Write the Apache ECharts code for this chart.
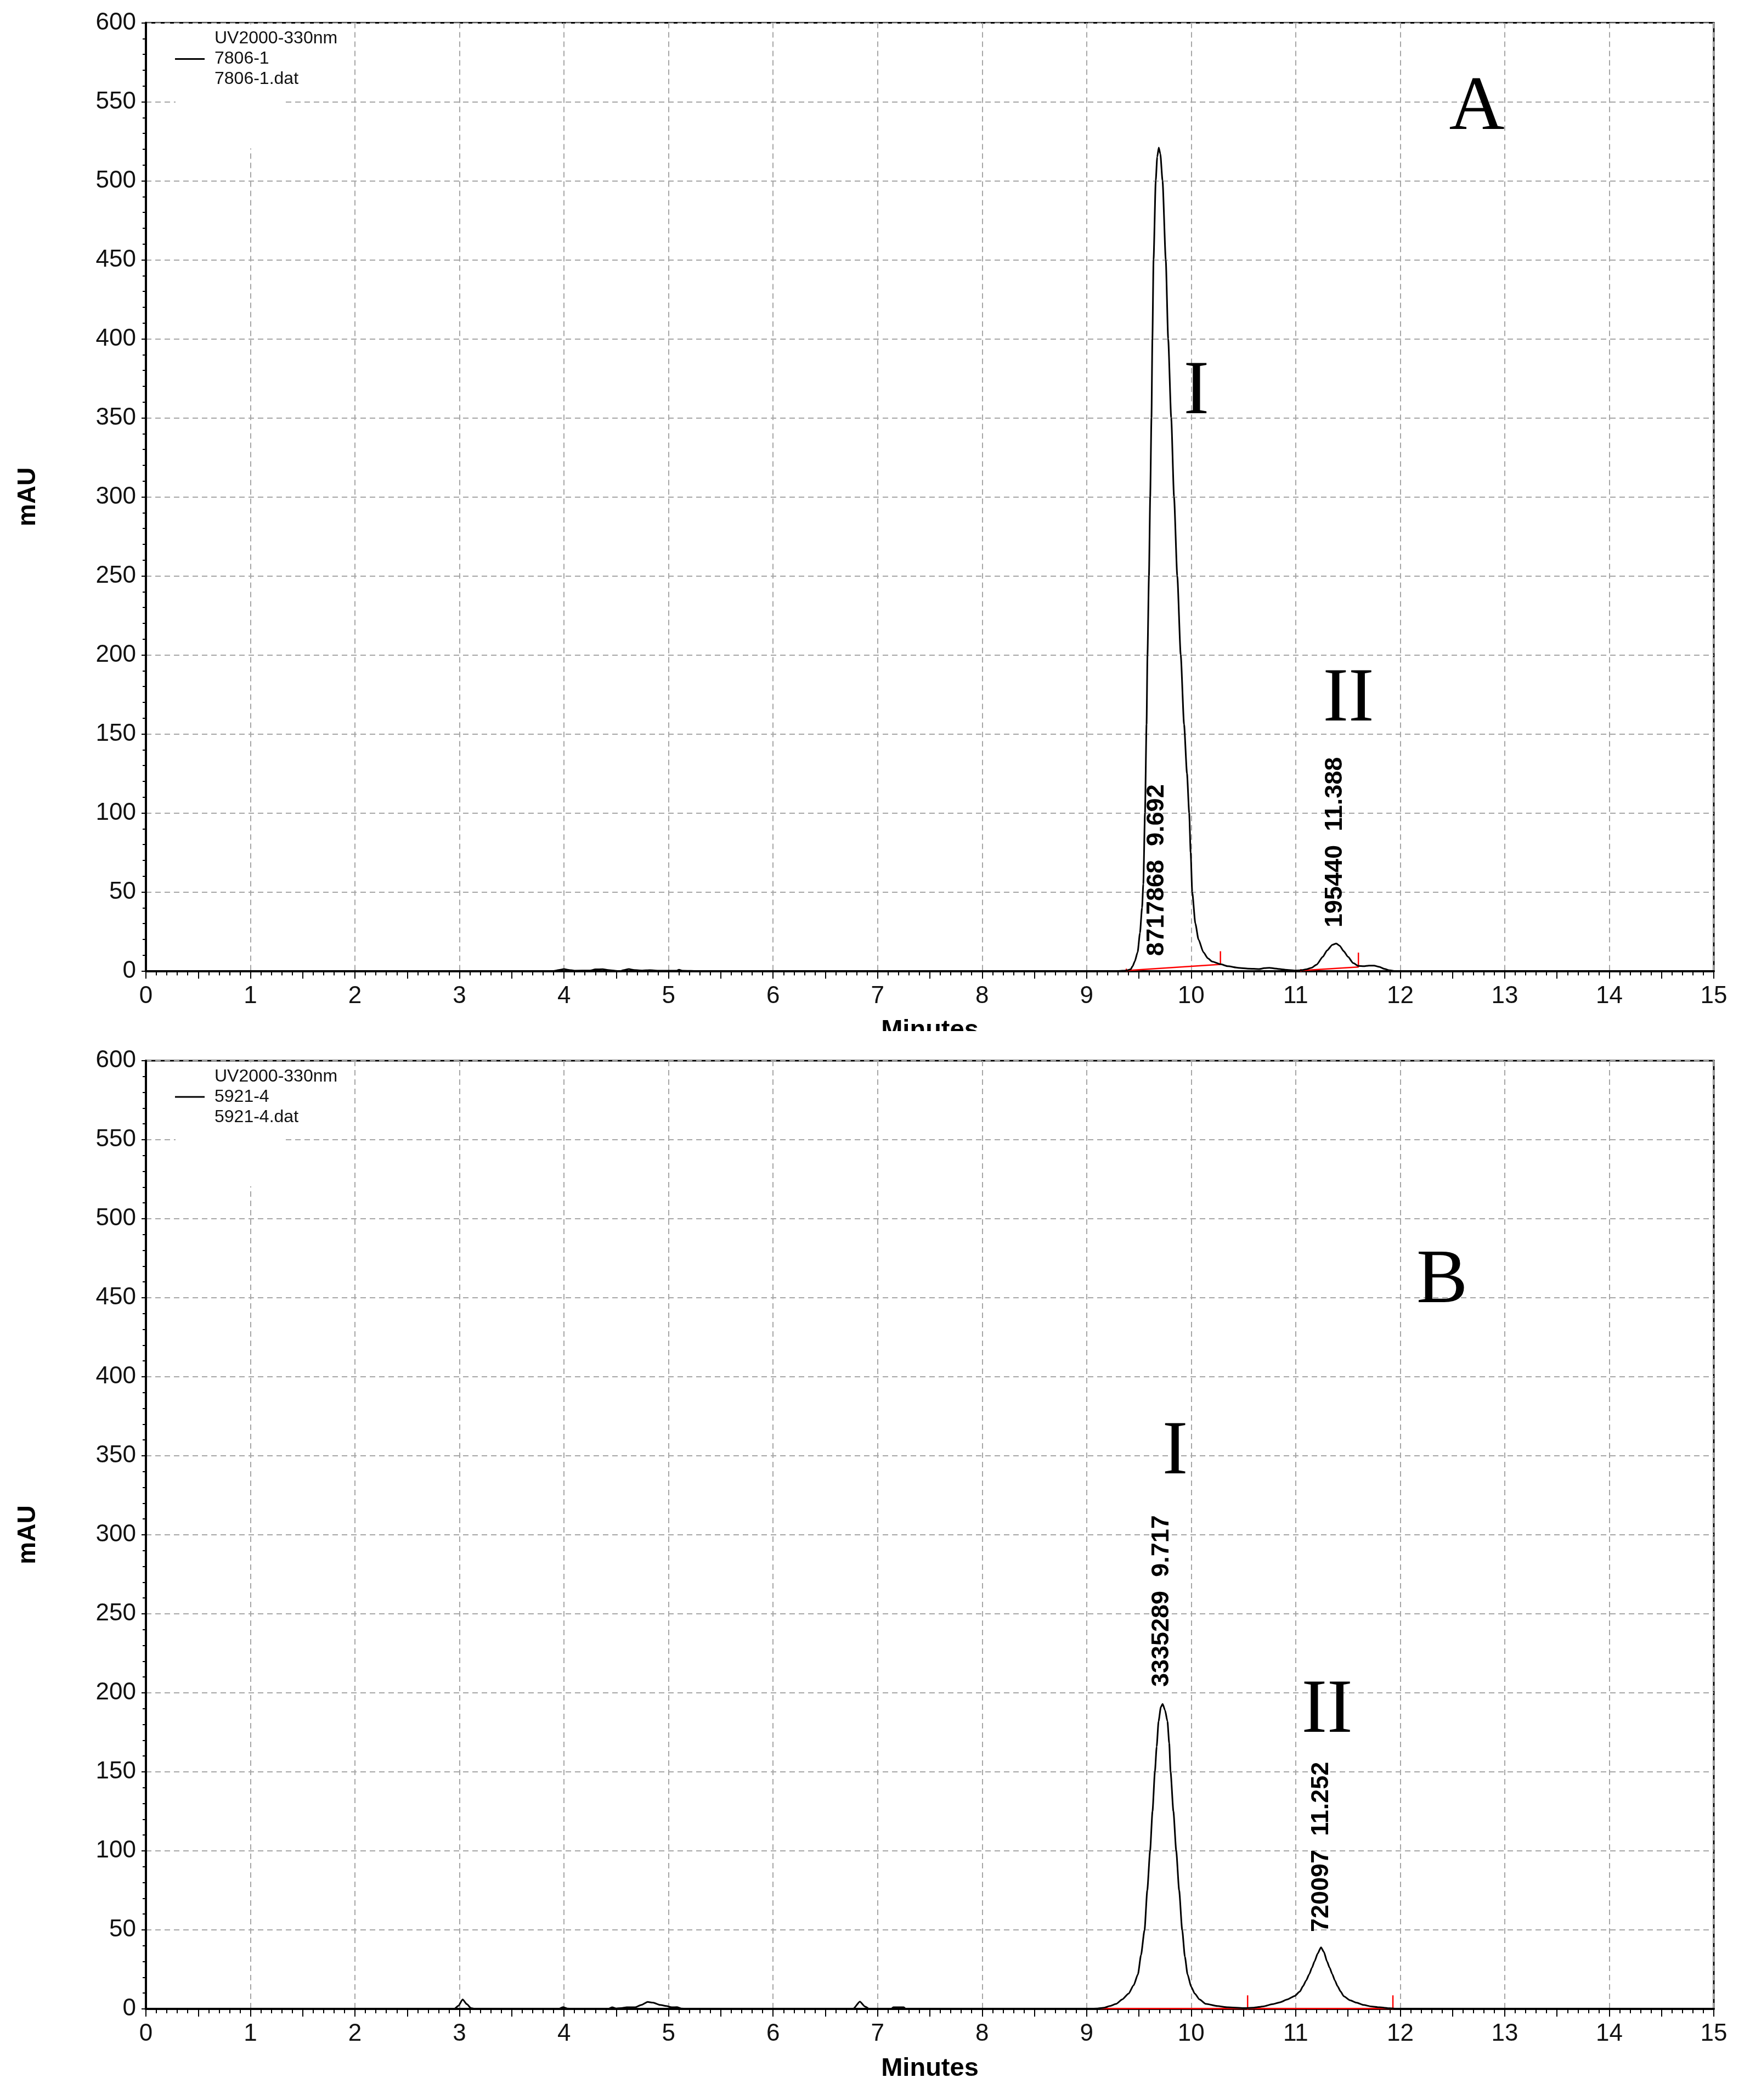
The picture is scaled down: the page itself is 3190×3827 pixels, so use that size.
<!DOCTYPE html>
<html><head><meta charset="utf-8">
<script src="https://cdn.jsdelivr.net/npm/echarts@6/dist/echarts.min.js"></script>
<style>html,body{margin:0;padding:0;background:#fff}#c{width:3190px;height:3827px}</style>
</head><body><div id="c"></div>
<script>
// ---------- data (time in minutes, absorbance in mAU) ----------
const legendA = 'UV2000-330nm\n7806-1\n7806-1.dat';
const legendB = 'UV2000-330nm\n5921-4\n5921-4.dat';

const traceA = [
 [0,0],[3.9,0],[3.95,0.6],[4.0,1.2],[4.05,0.6],[4.1,0.2],[4.25,0.3],[4.3,1.0],[4.37,1.1],[4.42,0.6],
 [4.5,0.1],[4.53,-0.3],[4.57,0.5],[4.62,1.2],[4.67,0.6],[4.75,0.3],[4.82,0.5],[4.9,0.2],[5.08,0.2],
 [5.1,0.8],[5.13,0.2],[5.3,0],[6.6,0],[6.65,-0.4],[6.85,-0.4],[6.9,0],[9.3,0],[9.38,0.3],[9.42,1],
 [9.44,3],[9.46,6],[9.488,12],[9.51,24],[9.53,40],[9.542,55],[9.558,100],[9.573,156],[9.582,200],
 [9.596,250],[9.608,300],[9.62,350],[9.629,400],[9.64,450],[9.661,500],[9.675,515],[9.69,521],
 [9.705,517],[9.726,500],[9.757,450],[9.78,400],[9.809,350],[9.836,300],[9.867,250],[9.9,200],
 [9.932,156],[9.96,125],[9.981,100],[9.995,75],[10.01,50],[10.04,30],[10.07,20],[10.116,12],
 [10.16,8],[10.2,6],[10.28,4.3],[10.35,3],[10.45,2],[10.55,1.5],[10.65,1.2],[10.7,1.8],[10.75,2],
 [10.8,1.6],[10.9,0.8],[11.0,0.3],[11.05,0.4],[11.1,1],[11.15,2],[11.2,4],[11.26,9],[11.3,13],
 [11.35,16.5],[11.388,17.4],[11.42,16],[11.46,12.5],[11.5,9],[11.55,5],[11.6,3.2],[11.65,3],
 [11.7,3.4],[11.75,3.4],[11.8,2.6],[11.85,1.3],[11.9,0.4],[11.95,0],[15,0]
];

const traceB = [
 [0,0],[2.95,0],[2.99,2],[3.03,6],[3.07,3],[3.11,0.5],[3.15,0],[3.95,0],[3.99,1.1],[4.03,0.3],
 [4.1,0],[4.42,0],[4.46,1],[4.5,0.3],[4.55,0.5],[4.6,1.0],[4.68,1.0],[4.74,2.5],[4.8,4.4],[4.85,4],
 [4.92,2.5],[4.98,1.8],[5.03,1],[5.08,1.1],[5.12,0.3],[5.2,0],[6.55,0],[6.6,-0.4],[6.72,-0.4],
 [6.77,0.3],[6.83,4.6],[6.88,1.5],[6.92,0],[7.13,0],[7.15,1],[7.25,1],[7.27,0],[9.0,0],[9.1,0.3],
 [9.17,0.8],[9.22,1.8],[9.283,3.2],[9.34,6],[9.40,9.6],[9.45,15],[9.491,22],[9.52,34],[9.554,50],
 [9.58,75],[9.607,100],[9.63,125],[9.653,150],[9.67,166],[9.688,182],[9.71,191],[9.727,193],
 [9.75,189],[9.773,182],[9.79,168],[9.803,150],[9.83,125],[9.857,100],[9.885,75],[9.914,50],
 [9.94,33],[9.965,22],[10.0,14],[10.035,9.6],[10.08,6],[10.14,3.2],[10.25,1.8],[10.35,1.0],
 [10.5,0.5],[10.6,0.8],[10.69,1.6],[10.78,3],[10.85,4.2],[10.92,6],[10.99,8.2],[11.04,11],
 [11.07,14.4],[11.1,18],[11.13,22],[11.155,26],[11.18,30],[11.21,35],[11.242,39],[11.27,36],
 [11.3,30],[11.325,26],[11.35,22],[11.375,18],[11.4,14.4],[11.43,11],[11.46,8],[11.52,5.5],
 [11.58,4],[11.65,2.5],[11.72,1.6],[11.8,1],[11.9,0.4],[12.0,0],[15,0]
];

// integration baselines and peak markers (red)
const baseA = [
 [[9.38,-1.5],[9.38,1.5]],
 [[9.38,0.3],[10.28,4.2],[10.28,12.5]],
 [[11.05,-1.5],[11.05,1.2]],
 [[11.05,0.3],[11.6,2.5],[11.6,11.6]]
];
const baseB = [
 [[9.13,0.3],[10.54,0.3]],
 [[10.54,-0.8],[10.54,8.6]],
 [[10.54,0.3],[11.93,0.3]],
 [[11.93,-0.8],[11.93,8.6]]
];

// peak annotations: area, retention time
const peakAreaA = ['8717868','195440'];
const peakRtA   = ['9.692','11.388'];
const peakAreaB = ['3335289','720097'];
const peakRtB   = ['9.717','11.252'];

const xTickLabels = ['0','1','2','3','4','5','6','7','8','9','10','11','12','13','14','15'];
const yTickLabels = ['0','50','100','150','200','250','300','350','400','450','500','550','600'];

// ---------- chart ----------
const FONT = "'Liberation Sans', Arial, sans-serif";
const SERIF = "'Liberation Serif', 'Times New Roman', serif";
const GRIDTOP = [41.5, 1933];
const GH = 1728, GL = 266, GR = 66;

function xMain(gi){ return {type:'value', gridIndex:gi, min:0, max:15, interval:1, position:'bottom',
  axisLine:{show:true,onZero:false, lineStyle:{color:'#000', width:4}},
  axisTick:{show:true,length:14, lineStyle:{color:'#000',width:2}},
  minorTick:{show:false},
  axisLabel:{fontSize:44, fontFamily:FONT, color:'#111', margin:24,
    formatter:v=>xTickLabels[Math.round(v)] || ''},
  splitLine:{show:true, lineStyle:{color:'#a6a6a6', width:2, type:[10,7]}}}; }
function xSub(gi){ return {type:'value', gridIndex:gi, min:0, max:15, interval:0.5, position:'bottom',
  axisLine:{show:false, onZero:false}, axisLabel:{show:false}, splitLine:{show:false},
  axisTick:{show:true,length:14, lineStyle:{color:'#000',width:2}},
  minorTick:{show:true, splitNumber:5, length:8, lineStyle:{color:'#000',width:2}}}; }
function yAx(gi){ return {type:'value', gridIndex:gi, min:0, max:600, interval:50,
  axisLine:{show:true, onZero:false, lineStyle:{color:'#000',width:4}},
  axisTick:{show:true,length:8, lineStyle:{color:'#000',width:2}},
  minorTick:{show:true, splitNumber:5, length:6, lineStyle:{color:'#000',width:2}},
  axisLabel:{fontSize:44, fontFamily:FONT, color:'#111', margin:18,
    formatter:v=>yTickLabels[Math.round(v/50)] || ''},
  splitLine:{show:true, lineStyle:{color:'#a6a6a6', width:2, type:[10,7]}}}; }

const series = [
  {type:'line', name:legendA, xAxisIndex:0, yAxisIndex:0, data:traceA, symbol:'none', showSymbol:false,
   smooth:0.2, smoothMonotone:'x',
   lineStyle:{color:'#000',width:3}, itemStyle:{color:'#000'}, z:5},
  {type:'line', name:legendB, xAxisIndex:2, yAxisIndex:1, data:traceB, symbol:'none', showSymbol:false,
   smooth:0.2, smoothMonotone:'x',
   lineStyle:{color:'#000',width:3}, itemStyle:{color:'#000'}, z:5}
];
baseA.forEach(seg=>series.push({type:'line', xAxisIndex:0, yAxisIndex:0, data:seg, symbol:'none',
  lineStyle:{color:'#ff0000',width:2.5}, z:4, silent:true}));
baseB.forEach(seg=>series.push({type:'line', xAxisIndex:2, yAxisIndex:1, data:seg, symbol:'none',
  lineStyle:{color:'#ff0000',width:2.5}, z:4, silent:true}));

const chart = echarts.init(document.getElementById('c'), null, {renderer:'canvas'});
const legendCommon = {left:319, orient:'vertical', selectedMode:false, padding:0,
  itemWidth:54, itemHeight:14, icon:'path://M0,6H54V9H0Z',
  itemStyle:{color:'#000'},
  textStyle:{fontSize:32, lineHeight:37, fontFamily:FONT, color:'#111', padding:[0,0,0,13]}};
chart.setOption({
  animation:false,
  backgroundColor:'#fff',
  grid:[
    {left:GL, right:GR, top:GRIDTOP[0], height:GH, show:true, borderColor:'#000', borderWidth:3},
    {left:GL, right:GR, top:GRIDTOP[1], height:GH, show:true, borderColor:'#000', borderWidth:3}
  ],
  xAxis:[xMain(0), xSub(0), xMain(1), xSub(1)],
  yAxis:[yAx(0), yAx(1)],
  legend:[
    Object.assign({data:[legendA], top:52}, legendCommon),
    Object.assign({data:[legendB], top:52+GRIDTOP[1]-GRIDTOP[0]}, legendCommon)
  ],
  series:series
});

// ---------- annotations placed through the axes ----------
function px(gi, x, y){ return chart.convertToPixel({xAxisIndex:gi*2, yAxisIndex:gi}, [x,y]); }
const g = [];
function serifText(gi, x, y, t){ const p = px(gi,x,y);
  g.push({type:'text', x:p[0], y:p[1], z:10, style:{text:t, font:"140px "+SERIF, fill:'#000',
    textAlign:'center', textVerticalAlign:'middle'}}); }
function peakText(gi, x, y, area, rt){ const p = px(gi,x,y);
  g.push({type:'text', x:p[0], y:p[1], rotation:Math.PI/2, z:10, style:{text:area+'  '+rt,
    font:"bold 45px "+FONT, fill:'#000', textAlign:'left', textVerticalAlign:'middle'}}); }

serifText(0, 12.733, 545.7, 'A');
serifText(0, 10.05, 365.8, 'I');
serifText(0, 11.505, 171.4, 'II');
serifText(1, 12.40, 460, 'B');
serifText(1, 9.846, 351.7, 'I');
serifText(1, 11.30, 188.2, 'II');

peakText(0, 9.673, 9.5, peakAreaA[0], peakRtA[0]);
peakText(0, 11.379, 27.6, peakAreaA[1], peakRtA[1]);
peakText(1, 9.718, 203.8, peakAreaB[0], peakRtB[0]);
peakText(1, 11.243, 48.6, peakAreaB[1], peakRtB[1]);

GRIDTOP.forEach((top, gi)=>{
  // white area behind legend hides some grid lines
  g.push({type:'rect', z:1, shape:{x:320, y:top+3, width:197, height:226}, style:{fill:'#fff'}});
  // axis names
  g.push({type:'text', x:51, y:top+GH/2, rotation:Math.PI/2, z:10,
    style:{text:'mAU', font:"bold 46px "+FONT, fill:'#000', textAlign:'center', textVerticalAlign:'middle'}});
  g.push({type:'text', x:GL+(3190-GL-GR)/2, y:top+GH+109, z:10,
    style:{text:'Minutes', font:"bold 47px "+FONT, fill:'#000', textAlign:'center', textVerticalAlign:'middle'}});
});
// the upper "Minutes" is cut off by the lower panel
g.push({type:'rect', z:20, shape:{x:1500, y:1879, width:400, height:46}, style:{fill:'#fff'}});

chart.setOption({graphic:{elements:g}});
</script>
</body></html>
